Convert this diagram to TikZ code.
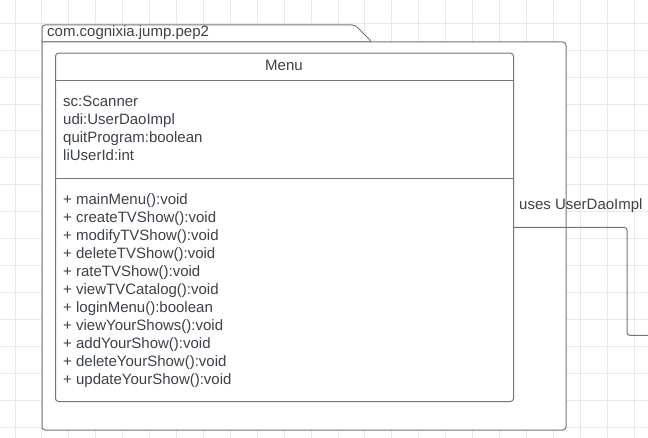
\documentclass[tikz,border=0pt]{standalone}
\usepackage{fontspec}
\setmainfont{Liberation Sans}
\definecolor{gridc}{HTML}{E8E8E8}
\definecolor{linec}{HTML}{72767C}
\definecolor{txt}{HTML}{3C4249}
\tikzset{
  gridline/.style={draw=gridc, line width=1pt},
  shapeline/.style={draw=linec, line width=1pt, fill=white},
  conn/.style={draw=linec, line width=1pt, rounded corners=3pt},
  lbl/.style={text=txt, font=\fontsize{15}{18}\selectfont, inner sep=0pt, anchor=base west},
}
\begin{document}
\begin{tikzpicture}[x=1pt, y=-1pt]
\useasboundingbox (0,0) rectangle (648,438);
\fill[white] (0,0) rectangle (648,438);
% grid
\foreach \k in {0,...,23} { \draw[gridline] ({15+26.92*\k},0) -- ({15+26.92*\k},438); }
\foreach \k in {0,...,15} { \draw[gridline] (0,{23.3+26.92*\k}) -- (648,{23.3+26.92*\k}); }
% package
\draw[shapeline, rounded corners=3pt] (42,42) -- (42,25) -- (355,25) -- (372,42) [sharp corners] -- cycle;
\draw[shapeline, rounded corners=3pt] (372,42) -- (566,42) -- (566,430) -- (42,430) [sharp corners] -- (42,42) -- cycle;
\node[lbl] (pkg) at (47,36.5) {com.cognixia.jump.pep2};
% class box
\node[shapeline, rounded corners=3pt, minimum width=458pt, minimum height=348.3pt, anchor=north west, inner sep=0pt] (menu) at (55,52.7) {};
\draw[draw=linec, line width=1pt] (menu.west |- 0,81) -- (menu.east |- 0,81);
\draw[draw=linec, line width=1pt] (menu.west |- 0,178.3) -- (menu.east |- 0,178.3);
\node[lbl, anchor=base] (title) at (284,71) {Menu};
% attributes
\foreach \t [count=\i from 0] in {sc:Scanner, udi:UserDaoImpl, quitProgram:boolean, liUserId:int}
  { \node[lbl] (a\i) at (63,{107+18*\i}) {\t}; }
% methods
\foreach \t [count=\i from 0] in {+ mainMenu():void, + createTVShow():void, + modifyTVShow():void, + deleteTVShow():void, + rateTVShow():void, + viewTVCatalog():void, + loginMenu():boolean, + viewYourShows():void, + addYourShow():void, + deleteYourShow():void, + updateYourShow():void}
  { \node[lbl] (m\i) at (63,{204.3+18*\i}) {\t}; }
% connector
\coordinate (cend) at (648,335.5);
\draw[conn] (menu.east |- 0,227.3) -| (627,335.5) -- (cend);
\node[lbl] (uses) at (519,210) {uses UserDaoImpl};
\end{tikzpicture}
\end{document}
